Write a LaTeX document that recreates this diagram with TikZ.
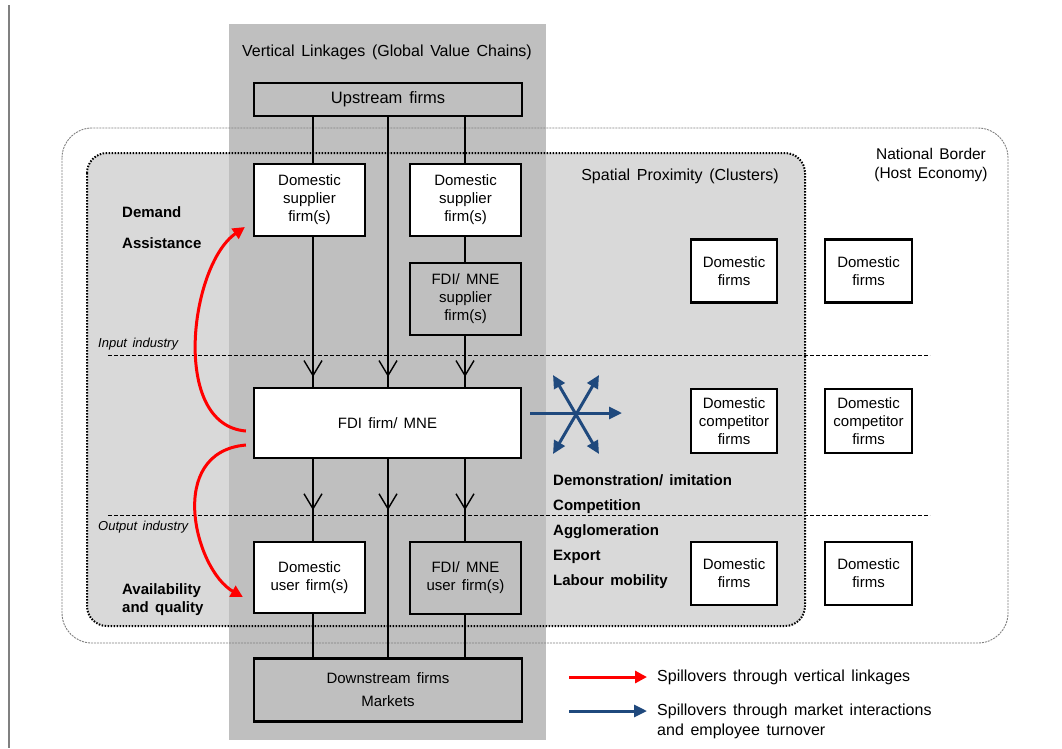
\documentclass[tikz,border=0pt]{standalone}
\usepackage{fontspec}
\setmainfont{Liberation Sans}[WordSpace=1.5]
\usetikzlibrary{arrows.meta,decorations.markings,calc}
\definecolor{colgray}{RGB}{191,191,191}
\definecolor{clgray}{RGB}{217,217,217}
\definecolor{arrblue}{RGB}{31,73,125}
\definecolor{arrred}{RGB}{255,0,0}
\definecolor{bordgray}{RGB}{128,128,128}
\begin{document}
\begin{tikzpicture}[x=1pt,y=-1pt,
  every node/.style={font=\fontsize{15}{18}\selectfont, inner sep=0pt},
  firmbox/.style={draw=black, line width=2.2pt, fill=white, align=center, inner sep=0pt},
  graybox/.style={firmbox, fill=colgray},
  vline/.style={line width=1.4pt},
  tipat/.style={postaction={decorate}, decoration={markings, mark=at position #1 with {\arrow{Straight Barb[length=15pt,width=18pt,line width=1.4pt]}}}},
  redarr/.style={draw=arrred, line width=3pt, -{Triangle[length=12pt,width=12pt]}},
  bluearr/.style={draw=arrblue, line width=3pt, -{Triangle[length=13pt,width=12pt]}},
  bluedbl/.style={draw=arrblue, line width=3pt, {Triangle[length=13pt,width=12pt]}-{Triangle[length=13pt,width=12pt]}},
  boldlab/.style={font=\fontsize{15}{18}\selectfont\bfseries, anchor=west, text height=11pt, text depth=3pt},
  itlab/.style={font=\fontsize{13}{16}\selectfont\itshape, anchor=west, text height=9.5pt, text depth=3pt},
]
\useasboundingbox (0,0) rectangle (1062,748);
\fill[white] (0,0) rectangle (1062,748);
\draw[bordgray, line width=2pt] (9,5) -- (9,748);

% backgrounds
\fill[clgray, rounded corners=20pt] (87,153) rectangle (805,626);
\fill[colgray] (229,24) rectangle (546,740);
\draw[bordgray, line width=0.9pt, dash pattern=on 2pt off 1pt, rounded corners=30pt] (62,128) rectangle (1008,643);
\draw[black, line width=2pt, dash pattern=on 1.5pt off 1.5pt, rounded corners=20pt] (87,153) rectangle (805,626);

% industry separators
\draw[line width=1pt, dash pattern=on 4pt off 2pt] (108,355) -- (930,355);
\draw[line width=1pt, dash pattern=on 4pt off 2pt] (108,515) -- (930,515);

% labels
\node[font=\fontsize{16}{19}\selectfont] (vl) at (387,52) {Vertical Linkages (Global Value Chains)};
\node[font=\fontsize{16}{19}\selectfont] (sp) at (680,176) {Spatial Proximity (Clusters)};
\node[font=\fontsize{15.5}{19}\selectfont, align=center] (nb) at (931,165) {National Border\\(Host Economy)};
\node[itlab] (inl) at (98,344) {Input industry};
\node[itlab] (outl) at (98,527) {Output industry};
\node[boldlab] (dem) at (122,213) {Demand};
\node[boldlab] (ass) at (122,244) {Assistance};
\node[font=\fontsize{15}{18}\selectfont\bfseries, anchor=west, align=left] (avq) at (122,600) {Availability\\and quality};
\node[boldlab] (b1) at (553,481) {Demonstration/ imitation};
\node[boldlab] (b2) at (553,506) {Competition};
\node[boldlab] (b3) at (553,531) {Agglomeration};
\node[boldlab] (b4) at (553,556) {Export};
\node[boldlab] (b5) at (553,581) {Labour mobility};

% vertical chain boxes
\node[graybox, minimum width=268pt, minimum height=33pt, font=\fontsize{16.5}{20}\selectfont] (up) at (388,99.5) {Upstream firms};
\node[firmbox, minimum width=111pt, minimum height=72pt] (s1) at (309.5,200) {Domestic\\supplier\\firm(s)};
\node[firmbox, minimum width=111pt, minimum height=72pt] (s2) at (465.5,200) {Domestic\\supplier\\firm(s)};
\node[graybox, minimum width=111pt, minimum height=72pt] (fs) at (465.5,299) {FDI/ MNE\\supplier\\firm(s)};
\node[firmbox, minimum width=267pt, minimum height=70pt] (fdi) at (387.5,423) {FDI firm/ MNE};
\node[firmbox, minimum width=111pt, minimum height=71pt] (u1) at (309.5,577.5) {Domestic\\user firm(s)};
\node[graybox, minimum width=111pt, minimum height=72pt] (fu) at (465.5,578) {FDI/ MNE\\user firm(s)};
\node[graybox, minimum width=268pt, minimum height=63pt] (down) at (388,690) {Downstream firms\\[5pt]Markets};

% right-side firms
\node[firmbox, minimum width=86pt, minimum height=63pt] (d1) at (734,271) {Domestic\\firms};
\node[firmbox, minimum width=87pt, minimum height=63pt] (d2) at (868.5,271) {Domestic\\firms};
\node[firmbox, minimum width=86pt, minimum height=64pt] (c1) at (734,421) {Domestic\\competitor\\firms};
\node[firmbox, minimum width=87pt, minimum height=64pt] (c2) at (868.5,421) {Domestic\\competitor\\firms};
\node[firmbox, minimum width=86pt, minimum height=63pt] (l1) at (734,573.5) {Domestic\\firms};
\node[firmbox, minimum width=87pt, minimum height=63pt] (l2) at (868.5,573.5) {Domestic\\firms};

% vertical linkage lines
\coordinate (xa) at (313,0);
\coordinate (xb) at (388,0);
\coordinate (xc) at (465,0);
\draw[vline] (up.south -| xa) -- (s1.north -| xa);
\draw[vline] (up.south -| xc) -- (s2.north -| xc);
\draw[vline, tipat=-10pt] (up.south -| xb) -- (fdi.north -| xb);
\draw[vline, tipat=-10pt] (s1.south -| xa) -- (fdi.north -| xa);
\draw[vline] (s2.south -| xc) -- (fs.north -| xc);
\draw[vline, tipat=-10pt] (fs.south -| xc) -- (fdi.north -| xc);
\draw[vline, tipat=51pt] (fdi.south -| xa) -- (u1.north -| xa);
\draw[vline, tipat=51pt] (fdi.south -| xb) -- (down.north -| xb);
\draw[vline, tipat=51pt] (fdi.south -| xc) -- (fu.north -| xc);
\draw[vline] (u1.south -| xa) -- (down.north -| xa);
\draw[vline] (fu.south -| xc) -- (down.north -| xc);

% red spillover arrows
\draw[redarr] ($(fdi.west)+(-7,8)$) .. controls (170,425) and (190,265) .. ($(s1.west)+(-8,27)$);
\draw[redarr] ($(fdi.west)+(-7,22)$) .. controls (165,452) and (195,570) .. ($(u1.west)+(-10,19.5)$);

% blue star
\coordinate (hs) at (530,413);
\coordinate (he) at (622,413);
\coordinate (dga) at (553,454);
\coordinate (dgb) at (599,375);
\coordinate (dgc) at (553,375);
\coordinate (dgd) at (599,454);
\draw[bluearr] (hs) -- (he);
\draw[bluedbl] (dga) -- (dgb);
\draw[bluedbl] (dgc) -- (dgd);

% legend
\coordinate (lra) at (569,677);
\coordinate (lrb) at (647,677);
\coordinate (lba) at (569,711);
\coordinate (lbb) at (647,711);
\draw[redarr] (lra) -- (lrb);
\draw[bluearr] (lba) -- (lbb);
\node[font=\fontsize{16}{20}\selectfont, anchor=west, text height=11.5pt, text depth=3pt] (lt1) at (657,677) {Spillovers through vertical linkages};
\node[font=\fontsize{16}{20}\selectfont, anchor=north west, align=left] (lt2) at (657,704) {Spillovers through market interactions\\and employee turnover};
\end{tikzpicture}
\end{document}
